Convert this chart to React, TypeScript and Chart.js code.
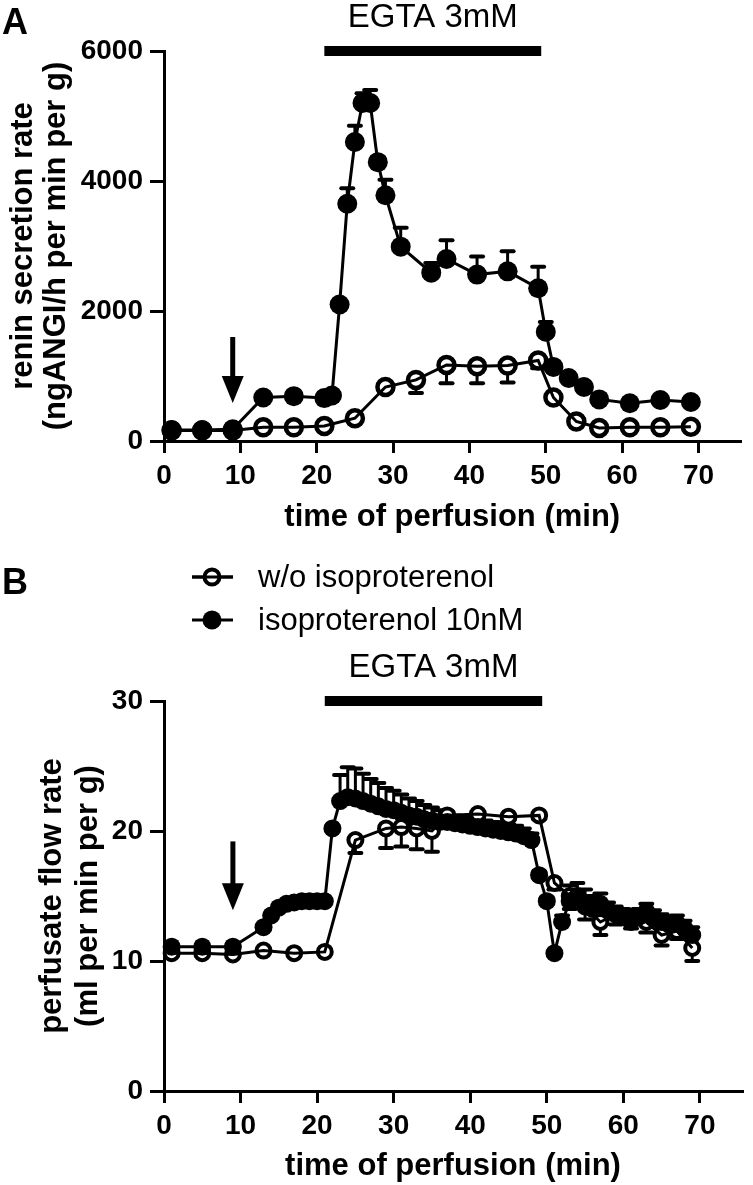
import React, { useEffect, useRef } from "react";
import { Chart, registerables } from "chart.js";

Chart.register(...registerables);

const FONT = "'Liberation Sans', Arial, Helvetica, sans-serif";

// ---------- Panel A: renin secretion rate ----------
const reninOpenX = [1, 5, 9, 13, 17, 21, 25, 29, 33, 37, 41, 45, 49, 51, 54, 57, 61, 65, 69];
const reninOpenY = [160, 160, 160, 210, 210, 230, 350, 830, 940, 1170, 1150, 1160, 1240, 670, 300, 200, 210, 210, 220];
const reninOpenErr = [0, 0, 0, 0, 0, 0, 50, 80, 200, 280, 260, 260, 120, 80, 40, 0, 0, 0, 0];

const reninIsoX = [1, 5, 9, 13, 17, 21, 22, 23, 24, 25, 26, 27, 28, 29, 31, 35, 37, 41, 45, 49, 50, 51, 53, 55, 57, 61, 65, 69];
const reninIsoY = [170, 170, 180, 670, 690, 660, 700, 2100, 3650, 4600, 5200, 5200, 4290, 3780, 2990, 2590, 2800, 2560, 2610, 2350, 1680, 1140, 970, 830, 640, 580, 630, 600];
const reninIsoErr = [0, 0, 0, 40, 40, 30, 0, 0, 240, 250, 150, 200, 80, 240, 290, 150, 290, 280, 310, 330, 150, 0, 0, 0, 0, 0, 0, 0];

const reninTicks = [0, 2000, 4000, 6000];

// ---------- Panel B: perfusate flow rate ----------
const flowOpenX = [1, 5, 9, 13, 17, 21, 25, 29, 31, 33, 35, 37, 41, 45, 49, 51, 53, 55, 57, 59, 61, 63, 65, 67, 69];
const flowOpenY = [10.6, 10.6, 10.5, 10.8, 10.6, 10.7, 19.3, 20.2, 20.3, 20.2, 20.0, 21.2, 21.3, 21.1, 21.2, 16.0, 15.0, 14.2, 13.0, 13.6, 13.3, 13.0, 12.0, 12.3, 11.0];
const flowOpenErr = [0, 0, 0, 0, 0, 0, 1.0, 1.5, 1.5, 1.6, 1.6, 0.3, 0.3, 0.3, 0.3, 0.5, 1.0, 1.0, 1.0, 0.8, 0.8, 0.8, 0.8, 0.6, 1.0];

const flowIsoX = [1, 5, 9, 13, 14, 15, 16, 17, 18, 19, 20, 21, 22, 23, 24, 25, 26, 27, 28, 29, 30, 31, 32, 33, 34, 35, 36, 37, 38, 39, 40, 41, 42, 43, 44, 45, 46, 47, 48, 49, 50, 51, 52, 53, 54, 55, 56, 57, 58, 59, 60, 61, 62, 63, 64, 65, 66, 67, 68, 69];
const flowIsoY = [11.1, 11.1, 11.1, 12.6, 13.5, 14.1, 14.4, 14.5, 14.6, 14.6, 14.6, 14.6, 20.2, 22.3, 22.6, 22.5, 22.3, 22.1, 21.9, 21.7, 21.6, 21.4, 21.2, 21.1, 20.9, 20.8, 20.7, 20.7, 20.6, 20.5, 20.4, 20.3, 20.2, 20.1, 20.0, 19.9, 19.8, 19.6, 19.3, 16.6, 14.6, 10.6, 13.0, 14.6, 15.0, 14.5, 14.0, 14.4, 13.9, 13.6, 13.4, 13.0, 13.4, 13.8, 13.3, 13.0, 12.8, 12.9, 12.5, 12.0];
const flowIsoErr = [0, 0, 0, 0, 0, 0, 0, 0, 0, 0, 0, 0, 0, 2.0, 2.3, 2.3, 2.1, 1.9, 1.8, 1.6, 1.5, 1.4, 1.3, 1.2, 1.1, 1.0, 0.9, 0.8, 0.6, 0.6, 0.6, 0.6, 0.6, 0.6, 0.6, 0.6, 0.6, 0.6, 0.5, 0.3, 0.3, 0, 0.5, 1.2, 1.0, 1.0, 1.0, 0.8, 0.6, 0.6, 0.6, 0.6, 0.6, 0.6, 0.6, 0.6, 0.6, 0.6, 0.6, 0.6];

const flowTicks = [0, 10, 20, 30];

// ---------- shared ----------
const timeTicks = [0, 10, 20, 30, 40, 50, 60, 70];
const timeMax = 75.5;
const egtaLabel = "EGTA 3mM";
const egtaStart = 21;
const egtaEnd = 49.4;
const arrowTime = 9;
const reninArrow = [1600, 585];
const flowArrow = [19.2, 13.9];
const seriesLabels = ["w/o isoproterenol", "isoproterenol 10nM"];

const pts = (xs: number[], ys: number[]) => xs.map((x, i) => ({ x, y: ys[i] }));

function drawOpenMarker(ctx: CanvasRenderingContext2D, x: number, y: number, r: number, w: number) {
  ctx.beginPath();
  ctx.arc(x, y, r, 0, Math.PI * 2);
  ctx.fillStyle = "#fff";
  ctx.fill();
  ctx.lineWidth = w;
  ctx.strokeStyle = "#000";
  ctx.stroke();
}

function makeConfig(p: any) {
  const annot = {
    id: "annot",
    beforeDatasetsDraw(chart: any) {
      const ctx = chart.ctx;
      const xs = chart.scales.x;
      const ys = chart.scales.y;
      ctx.save();
      ctx.strokeStyle = "#000";
      ctx.lineCap = "round";
      chart.data.datasets.forEach((ds: any) => {
        if (!ds.errors) return;
        ds.data.forEach((pt: any, i: number) => {
          const e = ds.errors[i];
          if (!e) return;
          const px = xs.getPixelForValue(pt.x);
          const py = ys.getPixelForValue(pt.y);
          const pe = ys.getPixelForValue(pt.y + ds.errDir * e);
          ctx.lineWidth = 3;
          ctx.beginPath();
          ctx.moveTo(px, py);
          ctx.lineTo(px, pe);
          ctx.stroke();
          ctx.lineWidth = 4;
          ctx.beginPath();
          ctx.moveTo(px - 6, pe);
          ctx.lineTo(px + 6, pe);
          ctx.stroke();
        });
      });
      ctx.restore();
    },
    afterDraw(chart: any) {
      const ctx = chart.ctx;
      const xs = chart.scales.x;
      const ys = chart.scales.y;
      ctx.save();
      ctx.fillStyle = "#000";
      ctx.strokeStyle = "#000";
      // panel letter
      ctx.font = `bold 36px ${FONT}`;
      ctx.textAlign = "left";
      ctx.textBaseline = "alphabetic";
      ctx.fillText(p.letter, 2, p.letterY);
      // EGTA bar + label
      const x0 = xs.getPixelForValue(egtaStart);
      const x1 = xs.getPixelForValue(egtaEnd);
      const by = ys.getPixelForValue(p.yMax);
      ctx.fillRect(x0, by - 5, x1 - x0, 10);
      ctx.font = `33px ${FONT}`;
      ctx.textAlign = "center";
      ctx.textBaseline = "middle";
      ctx.fillText(egtaLabel, (x0 + x1) / 2, by - 33);
      // arrow
      const ax = xs.getPixelForValue(arrowTime);
      const aTop = ys.getPixelForValue(p.arrow[0]);
      const aTip = ys.getPixelForValue(p.arrow[1]);
      ctx.fillRect(ax - 2.5, aTop, 5, aTip - aTop - 20);
      ctx.beginPath();
      ctx.moveTo(ax - 11, aTip - 27);
      ctx.lineTo(ax + 11, aTip - 27);
      ctx.lineTo(ax, aTip);
      ctx.closePath();
      ctx.fill();
      // legend
      if (p.legend) {
        const rows = [p.legendY, p.legendY + 43];
        ctx.font = `31px ${FONT}`;
        ctx.textAlign = "left";
        ctx.textBaseline = "middle";
        rows.forEach((ry: number, i: number) => {
          ctx.lineWidth = 3;
          ctx.strokeStyle = "#000";
          ctx.beginPath();
          ctx.moveTo(192, ry);
          ctx.lineTo(233, ry);
          ctx.stroke();
          if (i === 0) {
            drawOpenMarker(ctx, 212, ry, 7.5, 4);
            ctx.beginPath();
            ctx.moveTo(192, ry);
            ctx.lineTo(233, ry);
            ctx.lineWidth = 3;
            ctx.stroke();
          } else {
            ctx.fillStyle = "#000";
            ctx.beginPath();
            ctx.arc(212, ry, 9.5, 0, Math.PI * 2);
            ctx.fill();
          }
          ctx.fillStyle = "#000";
          ctx.fillText(seriesLabels[i], 258, ry + 1);
        });
      }
      ctx.restore();
    },
  };

  return {
    type: "line",
    data: {
      datasets: [
        {
          label: seriesLabels[1],
          data: pts(p.isoX, p.isoY),
          borderColor: "#000",
          borderWidth: 3,
          pointRadius: p.isoR,
          pointBorderWidth: 0,
          pointBackgroundColor: "#000",
          pointBorderColor: "#000",
          errors: p.isoErr,
          errDir: 1,
          order: 0,
          clip: false,
        },
        {
          label: seriesLabels[0] + " line",
          data: pts(p.openX, p.openY),
          borderColor: "#000",
          borderWidth: 3,
          pointRadius: 0,
          fill: false,
          order: 1,
          clip: false,
        },
        {
          label: seriesLabels[0],
          data: pts(p.openX, p.openY),
          showLine: false,
          pointRadius: p.openR,
          pointBorderWidth: p.openW,
          pointBackgroundColor: "#fff",
          pointBorderColor: "#000",
          errors: p.openErr,
          errDir: -1,
          order: 2,
          clip: false,
        },
      ],
    },
    options: {
      animation: false,
      responsive: false,
      maintainAspectRatio: false,
      devicePixelRatio: 1,
      layout: { padding: { top: p.padTop, right: 3, left: 0, bottom: 0 } },
      plugins: { legend: { display: false }, tooltip: { enabled: false } },
      scales: {
        x: {
          type: "linear",
          min: 0,
          max: timeMax,
          afterBuildTicks: (s: any) => {
            s.ticks = timeTicks.map((v) => ({ value: v }));
          },
          afterFit: (s: any) => {
            s.height = p.xAxisH;
          },
          border: { color: "#000", width: 3 },
          grid: { drawOnChartArea: false, color: "#000", lineWidth: 3, tickLength: 12 },
          ticks: {
            color: "#000",
            padding: 6,
            maxRotation: 0,
            autoSkip: false,
            callback: (v: any) => String(v),
            font: { family: FONT, size: 28, weight: "bold" },
          },
          title: {
            display: true,
            text: "time of perfusion (min)",
            color: "#000",
            font: { family: FONT, size: 31, weight: "bold", lineHeight: 1.2 },
            padding: { top: 0, bottom: p.xTitlePad },
          },
        },
        y: {
          type: "linear",
          min: 0,
          max: p.yMax,
          afterBuildTicks: (s: any) => {
            s.ticks = p.yTicks.map((v: number) => ({ value: v }));
          },
          afterFit: (s: any) => {
            s.width = 164;
          },
          border: { color: "#000", width: 3 },
          grid: { drawOnChartArea: false, color: "#000", lineWidth: 3, tickLength: 14 },
          ticks: {
            color: "#000",
            padding: 7,
            autoSkip: false,
            callback: (v: any) => String(v),
            font: { family: FONT, size: 28, weight: "bold" },
          },
          title: {
            display: true,
            text: p.yTitle,
            color: "#000",
            font: { family: FONT, size: 31, weight: "bold", lineHeight: p.yTitleLH },
            padding: { top: p.yTitlePad, bottom: 0 },
          },
        },
      },
    },
    plugins: [annot],
  };
}

const panelA = {
  letter: "A",
  letterY: 34,
  openX: reninOpenX,
  openY: reninOpenY,
  openErr: reninOpenErr,
  isoX: reninIsoX,
  isoY: reninIsoY,
  isoErr: reninIsoErr,
  openR: 8,
  openW: 4.5,
  isoR: 10,
  yMax: 6000,
  yTicks: reninTicks,
  yTitle: ["renin secretion rate", "(ngANGI/h per min per g)"],
  yTitleLH: 33 / 31,
  yTitlePad: 7,
  padTop: 51,
  xAxisH: 99,
  xTitlePad: 4,
  arrow: reninArrow,
  legend: false,
};

const panelB = {
  letter: "B",
  letterY: 54,
  openX: flowOpenX,
  openY: flowOpenY,
  openErr: flowOpenErr,
  isoX: flowIsoX,
  isoY: flowIsoY,
  isoErr: flowIsoErr,
  openR: 7,
  openW: 4,
  isoR: 9,
  yMax: 30,
  yTicks: flowTicks,
  yTitle: ["perfusate flow rate", "(ml per min per g)"],
  yTitleLH: 36 / 31,
  yTitlePad: 34,
  padTop: 161,
  xAxisH: 94,
  xTitlePad: 0,
  arrow: flowArrow,
  legend: true,
  legendY: 37,
};

function Panel({ top, height, cfg }: { top: number; height: number; cfg: any }) {
  const ref = useRef<HTMLCanvasElement>(null);
  useEffect(() => {
    if (!ref.current) return;
    const chart = new Chart(ref.current, makeConfig(cfg) as any);
    return () => chart.destroy();
  }, []);
  return (
    <canvas
      ref={ref}
      width={753}
      height={height}
      style={{ position: "absolute", left: 0, top, width: 753, height, display: "block" }}
    />
  );
}

export default function App() {
  return (
    <div style={{ position: "absolute", left: 0, top: 0, width: 753, height: 1185, background: "#fff" }}>
      <Panel top={0} height={540} cfg={panelA} />
      <Panel top={540} height={645} cfg={panelB} />
    </div>
  );
}
